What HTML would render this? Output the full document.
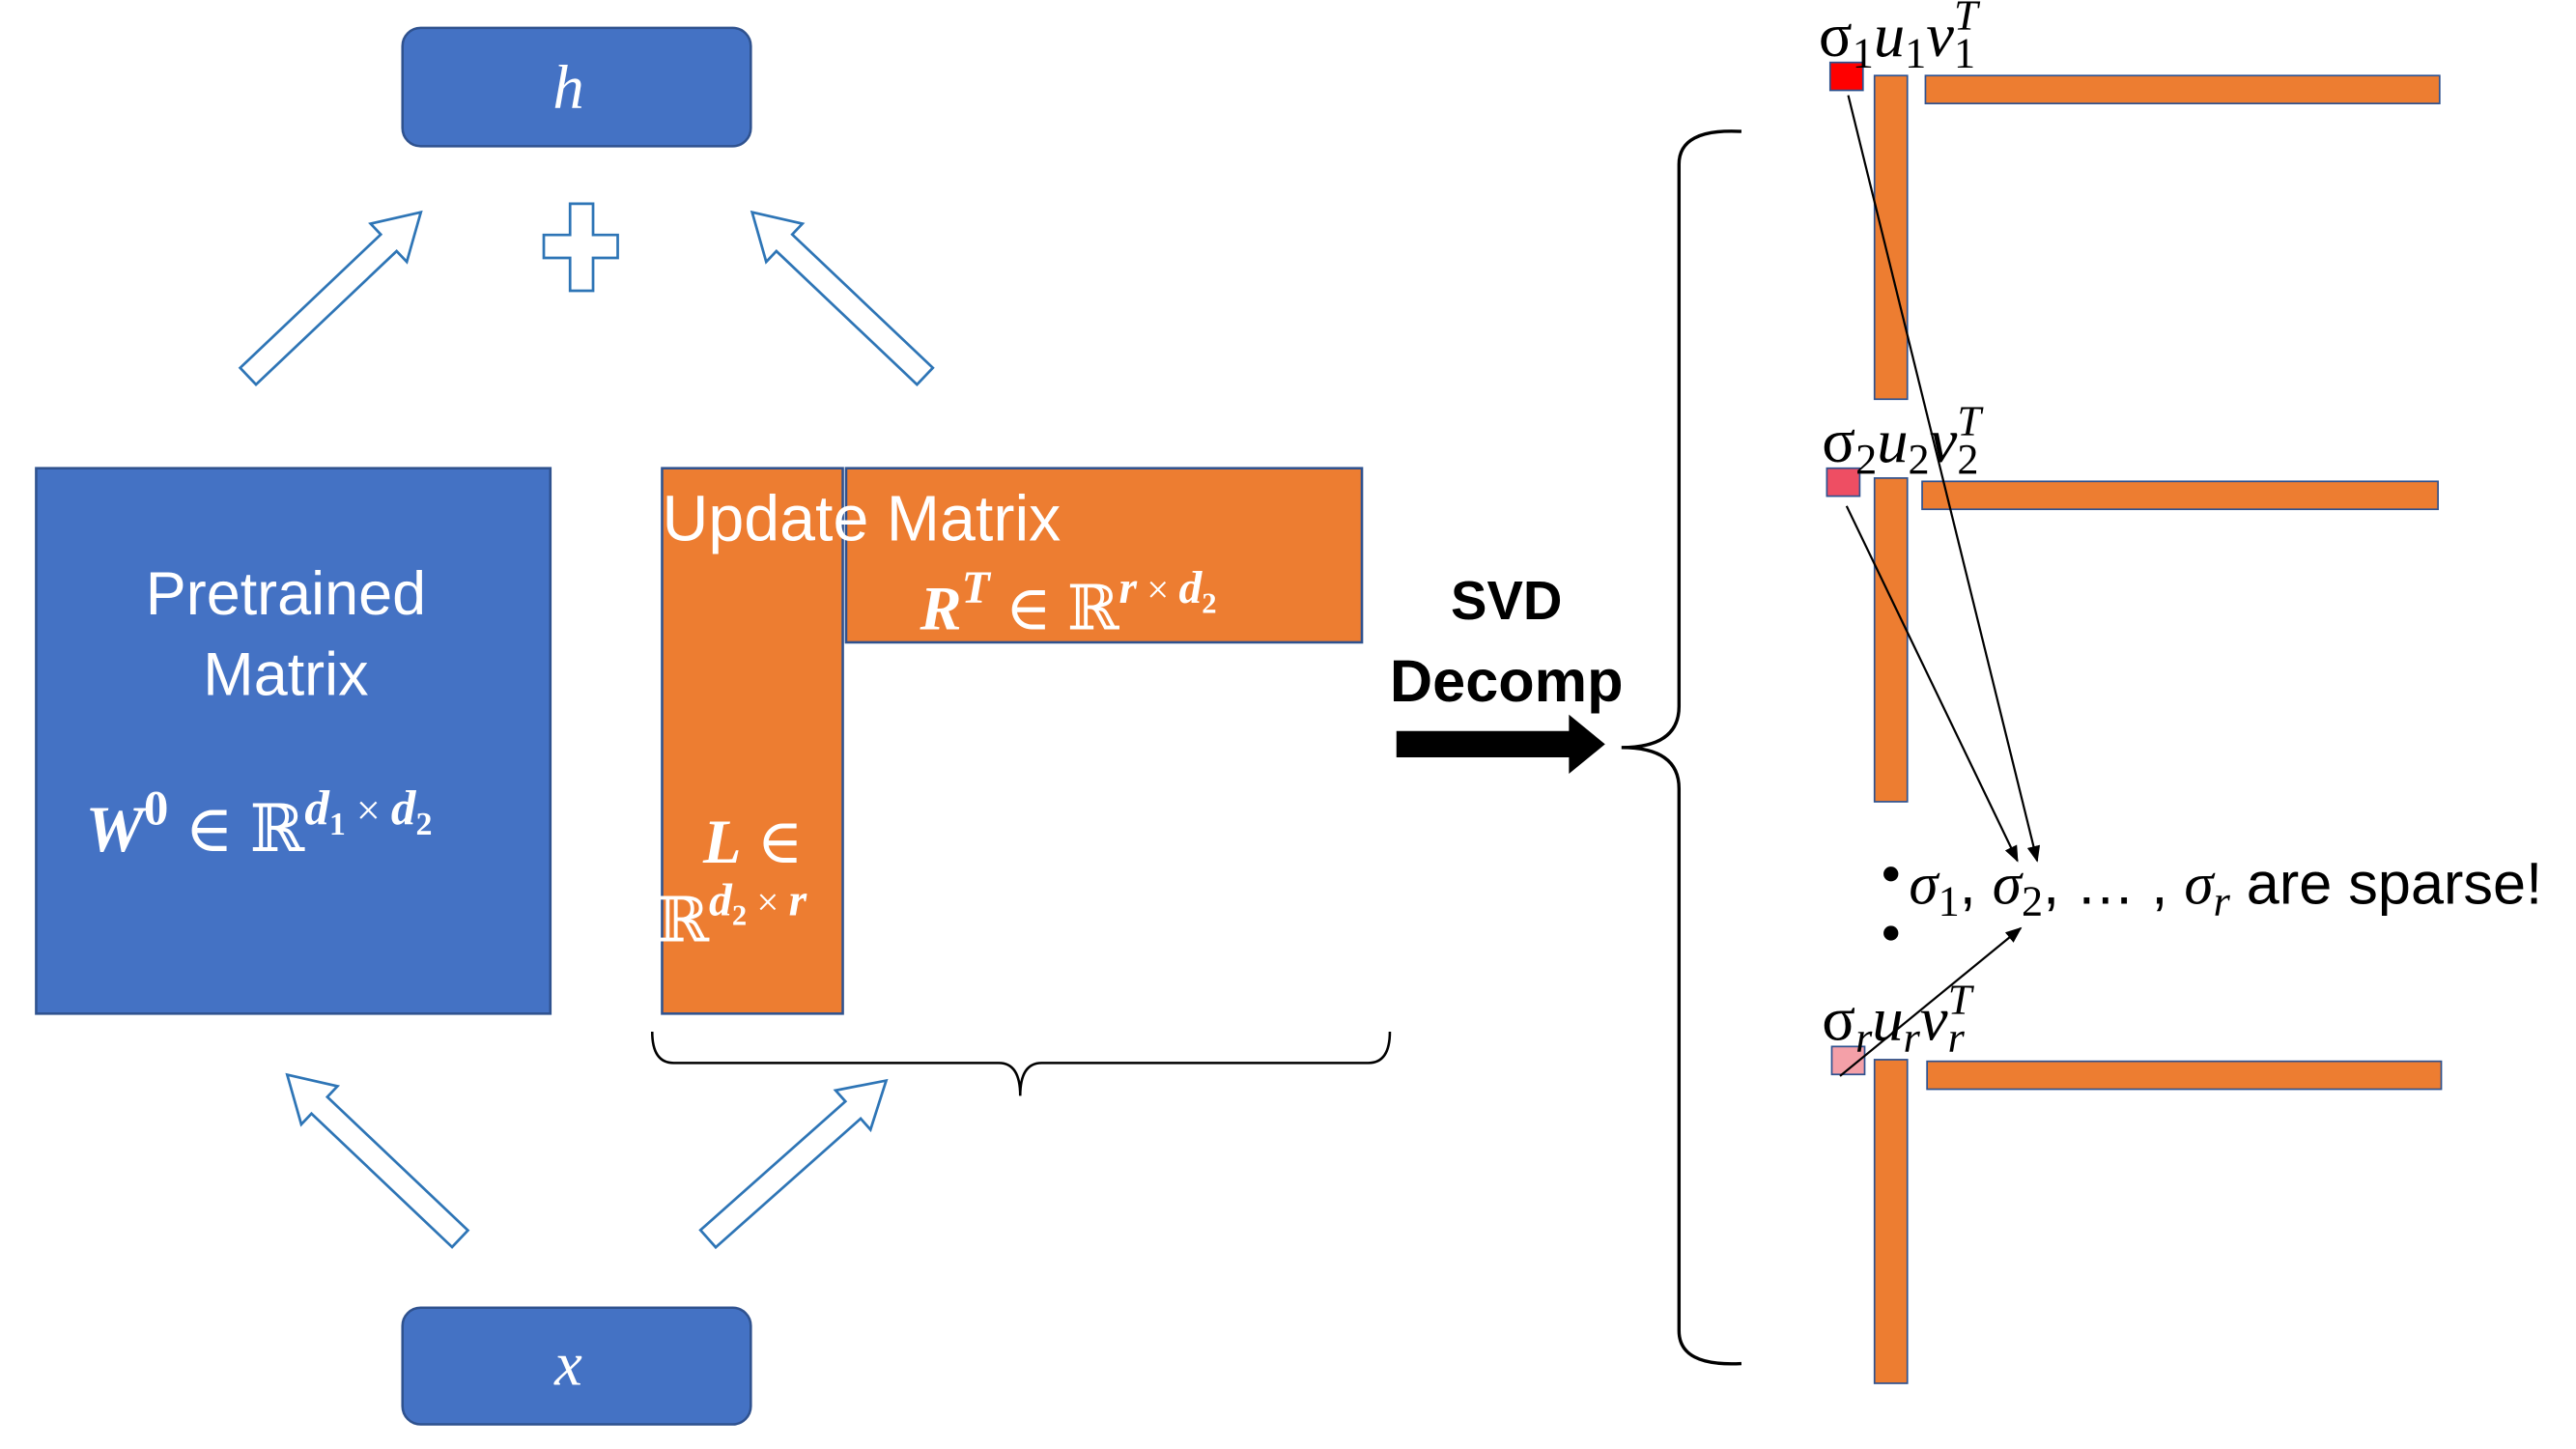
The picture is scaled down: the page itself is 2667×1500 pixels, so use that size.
<!DOCTYPE html>
<html><head><meta charset="utf-8"><style>
html,body{margin:0;padding:0;background:#fff;}
svg{display:block;}
text{font-family:"Liberation Sans",sans-serif;}
.m{font-family:"Liberation Serif","DejaVu Serif",serif;font-style:italic;}
.s{font-family:"Liberation Serif","DejaVu Serif",serif;}
</style></head><body>
<svg width="2667" height="1500" viewBox="0 0 1568 882" preserveAspectRatio="none" xmlns="http://www.w3.org/2000/svg">
<defs>
<polygon id="ha" points="0,-7 118,-7 118,-16 145,0 118,16 118,7 0,7" fill="#fff" stroke="#2E75B6" stroke-width="1.6"/>
<marker id="ar" markerWidth="10" markerHeight="10" refX="9" refY="5" orient="auto" markerUnits="userSpaceOnUse"><path d="M0,1 L10,5 L0,9 z" fill="#000"/></marker>
</defs>
<rect x="245" y="17" width="212" height="72" rx="11" fill="#4472C4" stroke="#2F528F" stroke-width="1.5"/>
<text x="346" y="66" class="m" font-size="38" fill="#fff" text-anchor="middle">h</text>
<rect x="245" y="796" width="212" height="71" rx="11" fill="#4472C4" stroke="#2F528F" stroke-width="1.5"/>
<text x="346" y="843" class="m" font-size="38" fill="#fff" text-anchor="middle">x</text>
<polygon points="347,124 361,124 361,143 376,143 376,157 361,157 361,177 347,177 347,157 331,157 331,143 347,143" fill="#fff" stroke="#2E75B6" stroke-width="1.6"/>
<use href="#ha" transform="translate(151,229) rotate(-43.5)"/>
<use href="#ha" transform="translate(563,229) rotate(-136.5)"/>
<use href="#ha" transform="translate(280,754) rotate(-136.5)"/>
<use href="#ha" transform="translate(431,754) rotate(-41.6)"/>
<rect x="22" y="285" width="313" height="332" fill="#4472C4" stroke="#2F528F" stroke-width="1.5"/>
<text x="174" y="374" font-size="37" fill="#fff" text-anchor="middle">Pretrained</text>
<text x="174" y="423" font-size="37" fill="#fff" text-anchor="middle">Matrix</text>
<text x="52" y="518" font-size="40" fill="#fff"><tspan class="m" font-weight="bold">W</tspan><tspan class="s" font-weight="bold" font-size="30" dy="-16">0</tspan><tspan class="s" dy="16"> ∈ ℝ</tspan><tspan class="m" font-weight="bold" font-size="30" dy="-16">d</tspan><tspan class="s" font-weight="bold" font-size="20" dy="6">1</tspan><tspan class="s" font-size="26" dy="-6"> × </tspan><tspan class="m" font-weight="bold" font-size="30">d</tspan><tspan class="s" font-weight="bold" font-size="20" dy="6">2</tspan></text>
<rect x="403" y="285" width="110" height="332" fill="#ED7D31" stroke="#2F528F" stroke-width="1.5"/>
<rect x="515" y="285" width="314" height="106" fill="#ED7D31" stroke="#2F528F" stroke-width="1.5"/>
<text x="403" y="329" font-size="39" fill="#fff">Update Matrix</text>
<text x="560" y="383" font-size="38" fill="#fff"><tspan class="m" font-weight="bold">R</tspan><tspan class="m" font-weight="bold" font-size="28" dy="-16">T</tspan><tspan class="s" dy="16"> ∈ ℝ</tspan><tspan class="m" font-weight="bold" font-size="28" dy="-16">r</tspan><tspan class="s" font-size="24"> × </tspan><tspan class="m" font-weight="bold" font-size="28">d</tspan><tspan class="s" font-weight="bold" font-size="18" dy="6">2</tspan></text>
<text x="428" y="525" font-size="38" fill="#fff"><tspan class="m" font-weight="bold">L</tspan><tspan class="s"> ∈</tspan></text>
<text x="400" y="573" font-size="38" fill="#fff" class="s">ℝ<tspan class="m" font-weight="bold" font-size="28" dy="-16">d</tspan><tspan class="s" font-weight="bold" font-size="18" dy="6">2</tspan><tspan class="s" font-size="24" dy="-6"> × </tspan><tspan class="m" font-weight="bold" font-size="28">r</tspan></text>
<path d="M397,628 Q397,647 410,647 L608,647 Q621,647 621,667 Q621,647 634,647 L833,647 Q846,647 846,628" fill="none" stroke="#000" stroke-width="1.5"/>
<text x="917" y="377" font-size="33" font-weight="bold" text-anchor="middle">SVD</text>
<text x="917" y="427" font-size="36" font-weight="bold" text-anchor="middle">Decomp</text>
<polygon points="850,445 955,445 955,435 977,453 955,471 955,461 850,461" fill="#000"/>
<path d="M1060,80 Q1022,78 1022,100 L1022,430 Q1022,455 987,455 Q1022,455 1022,480 L1022,810 Q1022,832 1060,830" fill="none" stroke="#000" stroke-width="2"/>
<rect x="1114" y="38" width="20" height="17" fill="#FF0000" stroke="#2F528F"/>
<rect x="1141" y="46" width="20" height="197" fill="#ED7D31" stroke="#2F528F"/>
<rect x="1172" y="46" width="313" height="17" fill="#ED7D31" stroke="#2F528F"/>
<text x="1107" y="34" class="s" font-size="38">σ<tspan font-size="26" dy="7">1</tspan><tspan class="m" dy="-7">u</tspan><tspan font-size="26" dy="7">1</tspan><tspan class="m" dy="-7">v</tspan><tspan font-size="26" dy="7">1</tspan><tspan class="m" font-size="26" dx="-13" dy="-23">T</tspan></text>
<rect x="1112" y="285" width="20" height="17" fill="#EE4E63" stroke="#2F528F"/>
<rect x="1141" y="291" width="20" height="197" fill="#ED7D31" stroke="#2F528F"/>
<rect x="1170" y="293" width="314" height="17" fill="#ED7D31" stroke="#2F528F"/>
<text x="1109" y="281" class="s" font-size="38">σ<tspan font-size="26" dy="7">2</tspan><tspan class="m" dy="-7">u</tspan><tspan font-size="26" dy="7">2</tspan><tspan class="m" dy="-7">v</tspan><tspan font-size="26" dy="7">2</tspan><tspan class="m" font-size="26" dx="-13" dy="-23">T</tspan></text>
<rect x="1115" y="637" width="20" height="17" fill="#F4A0A8" stroke="#2F528F"/>
<rect x="1141" y="645" width="20" height="197" fill="#ED7D31" stroke="#2F528F"/>
<rect x="1173" y="646" width="313" height="17" fill="#ED7D31" stroke="#2F528F"/>
<text x="1109" y="633" class="s" font-size="38">σ<tspan class="m" font-size="26" dy="7">r</tspan><tspan class="m" dy="-7">u</tspan><tspan class="m" font-size="26" dy="7">r</tspan><tspan class="m" dy="-7">v</tspan><tspan class="m" font-size="26" dy="7">r</tspan><tspan class="m" font-size="26" dx="-10" dy="-23">T</tspan></text>
<circle cx="1151" cy="532" r="4.5" fill="#000"/>
<circle cx="1151" cy="568" r="4.5" fill="#000"/>
<text x="1162" y="550" font-size="36"><tspan class="m">σ</tspan><tspan class="s" font-size="26" dy="7">1</tspan><tspan dy="-7">, </tspan><tspan class="m">σ</tspan><tspan class="s" font-size="26" dy="7">2</tspan><tspan dy="-7">, … , </tspan><tspan class="m">σ</tspan><tspan class="m" font-size="26" dy="7">r</tspan><tspan dy="-7"> are sparse!</tspan></text>
<line x1="1125" y1="58" x2="1240" y2="524" stroke="#000" stroke-width="1.3" marker-end="url(#ar)"/>
<line x1="1124" y1="308" x2="1228" y2="524" stroke="#000" stroke-width="1.3" marker-end="url(#ar)"/>
<line x1="1120" y1="655" x2="1230" y2="565" stroke="#000" stroke-width="1.3" marker-end="url(#ar)"/>
</svg>
</body></html>
